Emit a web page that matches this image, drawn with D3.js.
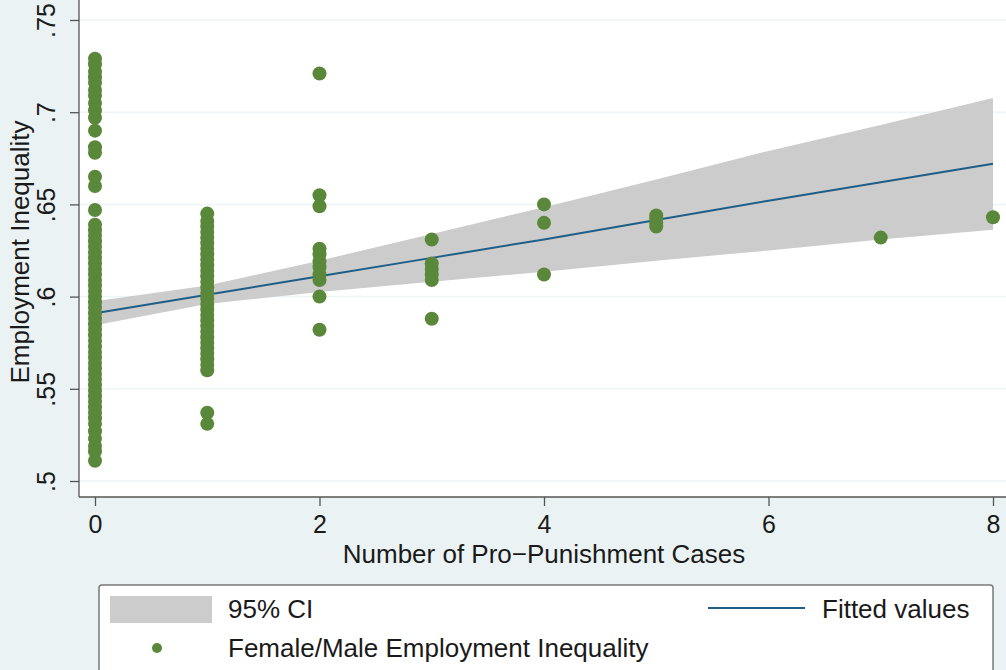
<!DOCTYPE html>
<html>
<head>
<meta charset="utf-8">
<script src="https://cdn.jsdelivr.net/npm/d3@7"></script>
<style>
    body { margin: 0; background: #eaf2f3; }
    svg { display: block; font-family: "Liberation Sans", Arial, sans-serif; }
    .tick line { stroke: #555; stroke-width: 1.3; }
    .tick text { fill: #1a1a1a; font-size: 25px; }
    .grid { stroke: #edf4f5; stroke-width: 1.5; }
    .frame { stroke: #555; stroke-width: 1.3; }
    .ci { fill: #cccccc; }
    .fit { fill: none; stroke: #1f5f87; stroke-width: 2; }
    .dot { fill: #5a883a; }
    .label { fill: #1a1a1a; font-size: 26px; }
</style>
</head>
<body>
<svg id="chart" width="1006" height="670"></svg>
<script>

// fitted line + 95% CI at each case count
var fitX = [0, 1, 2, 3, 4, 5, 6, 7, 8];
var fitY = [0.591, 0.601, 0.611, 0.621, 0.631, 0.6415, 0.652, 0.662, 0.672];
var ciLo = [0.5845, 0.596, 0.6025, 0.608, 0.6135, 0.6195, 0.625, 0.631, 0.6363];
var ciHi = [0.5975, 0.606, 0.6195, 0.634, 0.6485, 0.6635, 0.679, 0.693, 0.7077];

// scatter values, one list per number of pro-punishment cases
var cases0 = [0.729, 0.726, 0.722, 0.719, 0.716, 0.712, 0.709, 0.705, 0.701, 0.697,
    0.690, 0.681, 0.678, 0.665, 0.660, 0.647, 0.639, 0.636,
    0.633, 0.630, 0.627, 0.624, 0.621, 0.618, 0.615, 0.612, 0.609, 0.606,
    0.603, 0.600, 0.597, 0.594, 0.591, 0.588, 0.585, 0.582, 0.579, 0.576,
    0.573, 0.570, 0.567, 0.564, 0.561, 0.558, 0.555, 0.552, 0.549, 0.546,
    0.543, 0.540, 0.537, 0.534, 0.531, 0.527, 0.523, 0.519, 0.516, 0.511];
var cases1 = [0.645, 0.641, 0.638, 0.635, 0.632, 0.629, 0.626, 0.623, 0.620, 0.617,
    0.614, 0.611, 0.608, 0.605, 0.602, 0.599, 0.596, 0.593, 0.590, 0.587,
    0.584, 0.581, 0.578, 0.575, 0.572, 0.569, 0.566, 0.563, 0.560, 0.537, 0.531];
var cases2 = [0.721, 0.655, 0.649, 0.626, 0.623, 0.619, 0.616, 0.612, 0.609, 0.600, 0.582];
var cases3 = [0.631, 0.618, 0.615, 0.612, 0.609, 0.588];
var cases4 = [0.650, 0.640, 0.612];
var cases5 = [0.644, 0.642, 0.640, 0.638];
var cases7 = [0.632];
var cases8 = [0.643];

var xTicks = [0, 2, 4, 6, 8];
var yTicks = [0.5, 0.55, 0.6, 0.65, 0.7, 0.75];
var yTickLabels = ['.5', '.55', '.6', '.65', '.7', '.75'];

class Scatter {
    constructor() {
        this.svg = d3.select('#chart');
        this.x = d3.scaleLinear().domain([0, 8]).range([95, 993]);
        this.y = d3.scaleLinear().domain([0.5, 0.75]).range([481, 20]);
        this.left = 79;
        this.bottom = 497;
    }

    drawFrame() {
        var svg = this.svg;
        // white plot region
        svg.append('rect')
            .attr('x', this.left).attr('y', 0)
            .attr('width', 1006 - this.left).attr('height', this.bottom)
            .attr('fill', '#ffffff');

        svg.append('g').selectAll('line')
            .data(yTicks)
            .enter()
            .append('line')
            .attr('class', 'grid')
            .attr('x1', this.left).attr('x2', 1006)
            .attr('y1', d => this.y(d)).attr('y2', d => this.y(d));
    }

    drawAxes() {
        var svg = this.svg;
        var self = this;

        var yAxis = d3.axisLeft(this.y)
            .tickValues(yTicks)
            .tickFormat((d, i) => yTickLabels[i])
            .tickSize(9)
            .tickSizeOuter(0);
        var gy = svg.append('g')
            .attr('transform', 'translate(' + this.left + ',0)')
            .call(yAxis);
        gy.select('.domain').remove();
        gy.selectAll('.tick text')
            .attr('x', 0).attr('y', 0).attr('dy', 0)
            .attr('text-anchor', 'middle')
            .attr('font-family', null).attr('font-size', null)
            .attr('transform', 'translate(-24,0) rotate(-90)');

        var xAxis = d3.axisBottom(this.x)
            .tickValues(xTicks)
            .tickFormat(d3.format('d'))
            .tickSize(9)
            .tickSizeOuter(0);
        var gx = svg.append('g')
            .attr('transform', 'translate(0,' + this.bottom + ')')
            .call(xAxis);
        gx.select('.domain').remove();
        gx.selectAll('.tick text')
            .attr('y', 36).attr('dy', 0)
            .attr('font-family', null).attr('font-size', null);

        // axis lines
        svg.append('line').attr('class', 'frame')
            .attr('x1', this.left).attr('x2', this.left)
            .attr('y1', 0).attr('y2', this.bottom);
        svg.append('line').attr('class', 'frame')
            .attr('x1', this.left).attr('x2', 1006)
            .attr('y1', this.bottom).attr('y2', this.bottom);

        // titles
        svg.append('text').attr('class', 'label')
            .attr('text-anchor', 'middle')
            .attr('transform', 'translate(29,252) rotate(-90)')
            .text('Employment Inequality');
        svg.append('text').attr('class', 'label')
            .attr('text-anchor', 'middle')
            .attr('x', this.x(4)).attr('y', 563)
            .text('Number of Pro\u2212Punishment Cases');
    }

    drawFit() {
        var x = this.x, y = this.y;
        var area = d3.area()
            .x((d, i) => x(fitX[i]))
            .y0((d, i) => y(ciLo[i]))
            .y1((d, i) => y(ciHi[i]));
        this.svg.append('path')
            .datum(fitX)
            .attr('class', 'ci')
            .attr('d', area);

        var line = d3.line()
            .x((d, i) => x(fitX[i]))
            .y((d, i) => y(fitY[i]));
        this.svg.append('path')
            .datum(fitX)
            .attr('class', 'fit')
            .attr('d', line);
    }

    drawPoints() {
        var x = this.x, y = this.y;
        var groups = [[0, cases0], [1, cases1], [2, cases2], [3, cases3],
            [4, cases4], [5, cases5], [7, cases7], [8, cases8]];
        var pts = [];
        groups.forEach(function (g) {
            g[1].forEach(function (v) { pts.push({ n: g[0], v: v }); });
        });
        this.svg.append('g').selectAll('circle')
            .data(pts)
            .enter()
            .append('circle')
            .attr('class', 'dot')
            .attr('cx', d => x(d.n))
            .attr('cy', d => y(d.v))
            .attr('r', 7);
    }

    drawLegend() {
        var svg = this.svg;
        svg.append('rect')
            .attr('x', 99).attr('y', 585)
            .attr('width', 894).attr('height', 110)
            .attr('rx', 3)
            .attr('fill', '#ffffff')
            .attr('stroke', '#7a7a7a').attr('stroke-width', 1.5);

        svg.append('rect').attr('class', 'ci')
            .attr('x', 110).attr('y', 596)
            .attr('width', 102).attr('height', 27);
        svg.append('text').attr('class', 'label')
            .attr('x', 228).attr('y', 618)
            .text('95% CI');

        svg.append('line').attr('class', 'fit')
            .attr('x1', 708).attr('x2', 805)
            .attr('y1', 608).attr('y2', 608);
        svg.append('text').attr('class', 'label')
            .attr('x', 822).attr('y', 618)
            .text('Fitted values');

        svg.append('circle').attr('class', 'dot')
            .attr('cx', 157).attr('cy', 648).attr('r', 5);
        svg.append('text').attr('class', 'label')
            .attr('x', 228).attr('y', 657)
            .text('Female/Male Employment Inequality');
    }
}

var chart = new Scatter();
chart.drawFrame();
chart.drawAxes();
chart.drawFit();
chart.drawPoints();
chart.drawLegend();
</script>
</body>
</html>
